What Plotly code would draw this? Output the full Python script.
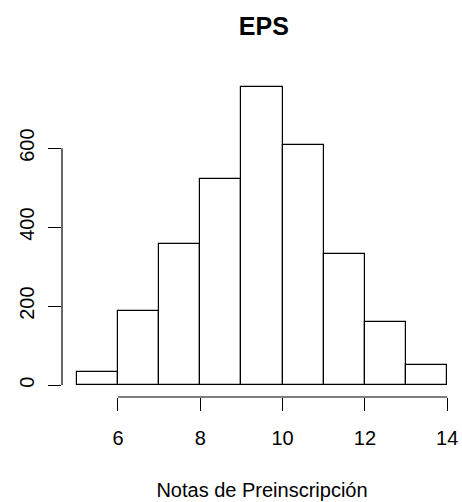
import plotly.graph_objects as go

bin_edges = [5, 6, 7, 8, 9, 10, 11, 12, 13, 14]
counts = [34, 188, 356, 522, 755, 608, 333, 161, 51]
x_ticks = [6, 8, 10, 12, 14]
y_ticks = [0, 200, 400, 600]
title = "EPS"
x_title = "Notas de Preinscripción"

centers = [(a + b) / 2 for a, b in zip(bin_edges[:-1], bin_edges[1:])]
widths = [b - a for a, b in zip(bin_edges[:-1], bin_edges[1:])]

xmin, xmax = bin_edges[0], bin_edges[-1]
dx = (xmax - xmin) * 0.04
ymax = max(counts)
dy = ymax * 0.04

FONT = "Liberation Sans, Arial, sans-serif"

fig = go.Figure(go.Bar(
    x=centers, y=counts, width=widths,
    marker=dict(color="white", line=dict(color="black", width=1.2)),
))

fig.update_layout(
    width=462, height=502,
    margin=dict(l=62, r=0, t=75, b=105),
    plot_bgcolor="white", paper_bgcolor="white",
    showlegend=False,
    font=dict(family=FONT, size=20, color="black"),
    title=dict(text="<b>" + title + "</b>", x=0.571, xanchor="center",
               y=0.947, yanchor="middle", font=dict(size=25, family=FONT)),
    bargap=0,
)
fig.update_xaxes(
    range=[xmin - dx, xmax + dx], tickvals=x_ticks, ticks="outside",
    ticklen=13, tickwidth=1.2, tickcolor="black", showline=False,
    showgrid=False, zeroline=False, ticklabelstandoff=10, automargin=False,
    title=dict(text=x_title, standoff=34, font=dict(size=20)),
)
fig.update_yaxes(
    range=[-dy, ymax + dy], tickvals=y_ticks, ticks="outside",
    ticklen=13, tickwidth=1.2, tickcolor="black", showline=False,
    showgrid=False, zeroline=False, tickangle=-90, ticklabelstandoff=6,
    automargin=False,
)
fig.add_shape(type="line", xref="x", yref="paper",
              x0=min(x_ticks), x1=max(x_ticks), y0=0, y1=0,
              line=dict(color="black", width=1.2))
fig.add_shape(type="line", xref="paper", yref="y",
              x0=0, x1=0, y0=min(y_ticks), y1=max(y_ticks),
              line=dict(color="black", width=1.2))

fig.write_html("out.html", config={"displayModeBar": False},
               post_script="document.body.style.margin='0';document.body.style.padding='0';")
